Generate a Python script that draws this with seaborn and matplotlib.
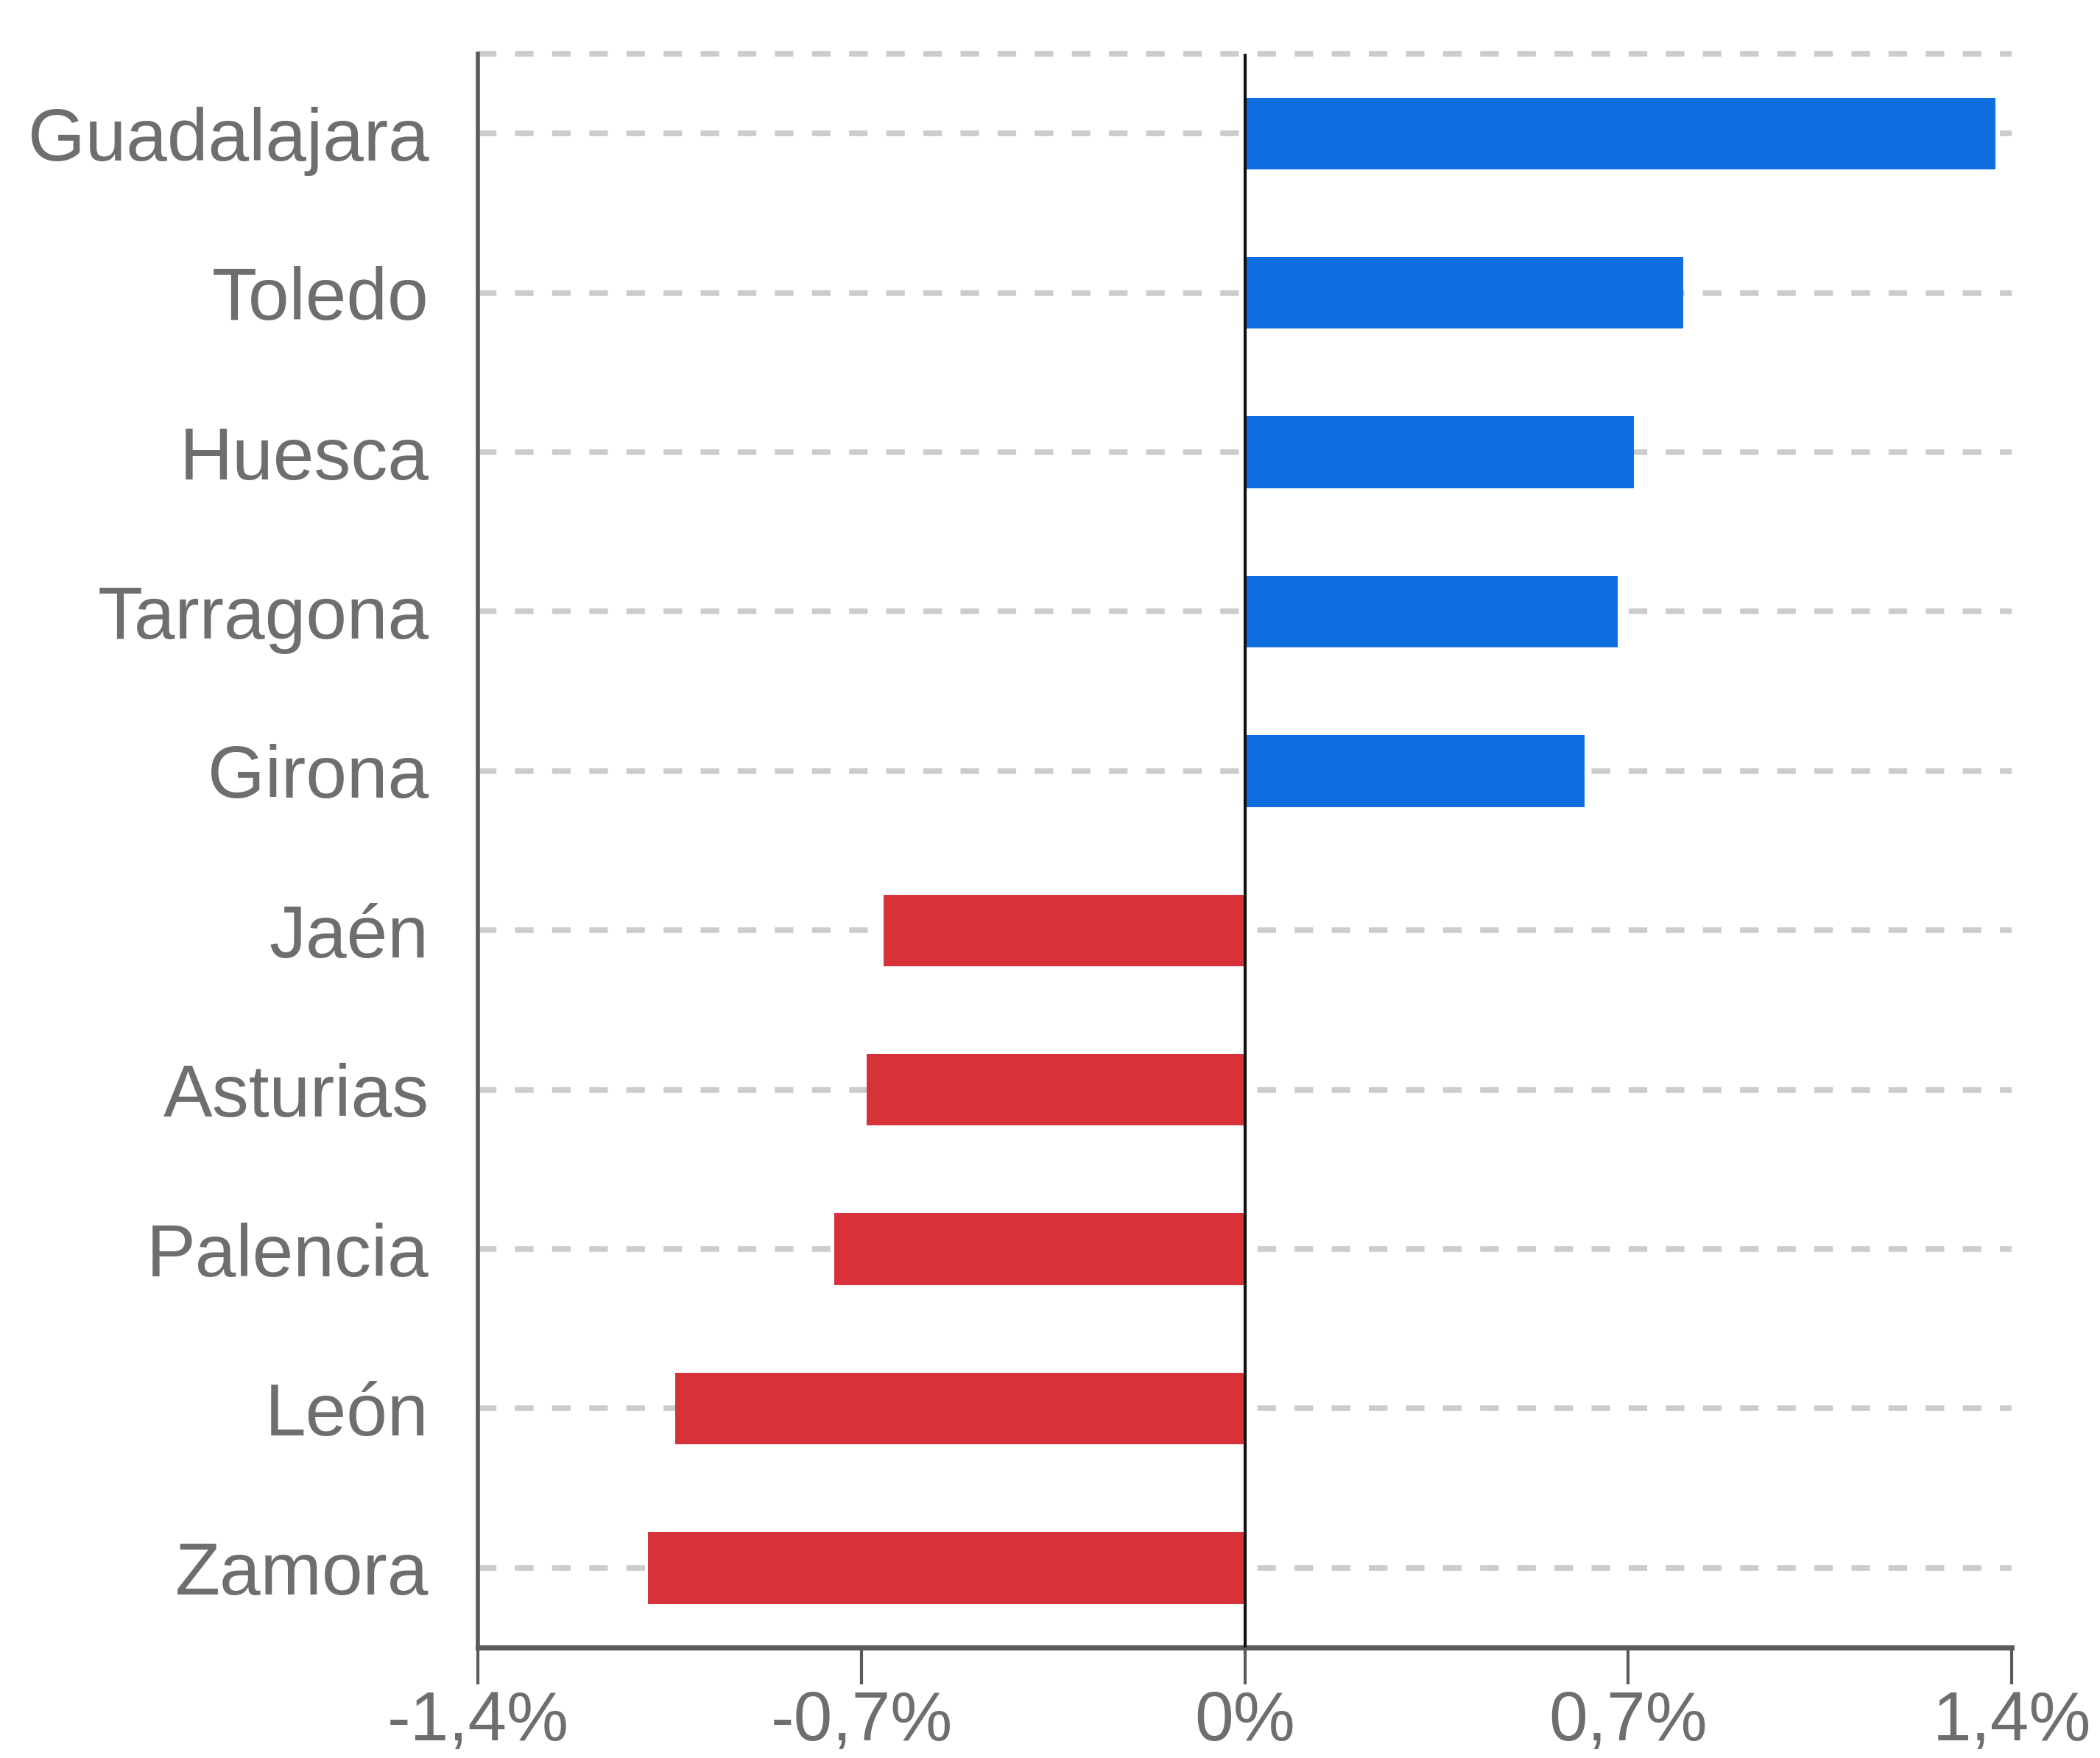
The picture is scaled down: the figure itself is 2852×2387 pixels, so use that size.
import matplotlib
matplotlib.use("Agg")
import matplotlib.pyplot as plt
import seaborn as sns
import pandas as pd
from matplotlib import font_manager

provincias = ["Guadalajara", "Toledo", "Huesca", "Tarragona", "Girona",
              "Jaén", "Asturias", "Palencia", "León", "Zamora"]
variacion = [1.37, 0.80, 0.71, 0.68, 0.62, -0.66, -0.69, -0.75, -1.04, -1.09]
xticks = [-1.4, -0.7, 0, 0.7, 1.4]
xtick_labels = ["-1,4%", "-0,7%", "0%", "0,7%", "1,4%"]

sns.set_theme(style="white")
names = {f.name for f in font_manager.fontManager.ttflist}
fam = "Liberation Sans Narrow" if "Liberation Sans Narrow" in names else "Liberation Sans"
plt.rcParams["font.family"] = [fam, "DejaVu Sans"]

df = pd.DataFrame({"prov": provincias, "val": variacion,
                   "signo": ["pos" if v >= 0 else "neg" for v in variacion]})

fig = plt.figure(figsize=(28.52, 23.87), dpi=100)
ax = fig.add_axes([0.2276, 0.0628, 0.958 - 0.2276, 0.9694 - 0.0628])

sns.barplot(data=df, x="val", y="prov", hue="signo",
            palette={"pos": "#0f6fe0", "neg": "#d7313a"}, saturation=1,
            dodge=False, legend=False, width=0.45, ax=ax, zorder=3,
            linewidth=0, orient="h")

ax.set_xlim(-1.4, 1.4)
ax.set_ylim(9.5, -0.5)
ax.set_xlabel("")
ax.set_ylabel("")

grid_kw = dict(color="#cccccc", linewidth=5.5, linestyle=(0, (3.3, 3.3)))
for i in range(len(provincias)):
    ax.axhline(i, zorder=1, **grid_kw)
ax.axhline(-0.5, zorder=1, clip_on=False, **grid_kw)

ax.axvline(0, color="#111111", linewidth=3, zorder=4)

for s in ["top", "right"]:
    ax.spines[s].set_visible(False)
ax.spines["left"].set_color("#5a5a5a")
ax.spines["left"].set_linewidth(4)
ax.spines["bottom"].set_color("#5a5a5a")
ax.spines["bottom"].set_linewidth(5)

ax.set_xticks(xticks)
ax.set_xticklabels(xtick_labels)
ax.tick_params(axis="x", length=36, width=3, color="#5a5a5a", pad=5,
               labelsize=68, labelcolor="#6e6e6e", direction="out", bottom=True)
ax.tick_params(axis="y", length=0, pad=48, labelsize=72, labelcolor="#6e6e6e")

fig.savefig("out.png", dpi=100, facecolor="white")
